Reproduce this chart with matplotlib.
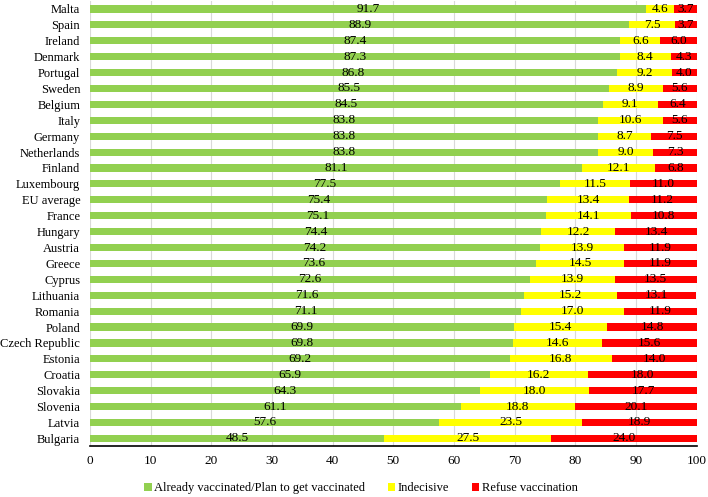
import matplotlib
matplotlib.use("Agg")
import matplotlib.pyplot as plt
import numpy as np

countries = ["Malta", "Spain", "Ireland", "Denmark", "Portugal", "Sweden", "Belgium", "Italy",
             "Germany", "Netherlands", "Finland", "Luxembourg", "EU average", "France", "Hungary",
             "Austria", "Greece", "Cyprus", "Lithuania", "Romania", "Poland", "Czech Republic",
             "Estonia", "Croatia", "Slovakia", "Slovenia", "Latvia", "Bulgaria"]
vaccinated = [91.7, 88.9, 87.4, 87.3, 86.8, 85.5, 84.5, 83.8, 83.8, 83.8, 81.1, 77.5, 75.4, 75.1,
              74.4, 74.2, 73.6, 72.6, 71.6, 71.1, 69.9, 69.8, 69.2, 65.9, 64.3, 61.1, 57.6, 48.5]
indecisive = [4.6, 7.5, 6.6, 8.4, 9.2, 8.9, 9.1, 10.6, 8.7, 9.0, 12.1, 11.5, 13.4, 14.1,
              12.2, 13.9, 14.5, 13.9, 15.2, 17.0, 15.4, 14.6, 16.8, 16.2, 18.0, 18.8, 23.5, 27.5]
refuse = [3.7, 3.7, 6.0, 4.3, 4.0, 5.6, 6.4, 5.6, 7.5, 7.3, 6.8, 11.0, 11.2, 10.8,
          13.4, 11.9, 11.9, 13.5, 13.1, 11.9, 14.8, 15.6, 14.0, 18.0, 17.7, 20.1, 18.9, 24.0]

plt.rcParams['font.family'] = ['Liberation Serif', 'DejaVu Serif']

fig = plt.figure(figsize=(7.08, 4.97), dpi=100)
ax = fig.add_axes([0.127, 0.102, 0.857, 0.896])

y = np.arange(len(countries))
v = np.array(vaccinated); i = np.array(indecisive); r = np.array(refuse)
h = 0.45
b1 = ax.barh(y, v, height=h, color="#92D050", label="Already vaccinated/Plan to get vaccinated", zorder=2)
b2 = ax.barh(y, i, left=v, height=h, color="#FFFF00", label="Indecisive", zorder=2)
b3 = ax.barh(y, r, left=v + i, height=h, color="#FF0000", label="Refuse vaccination", zorder=2)

for bars, vals, lefts in [(b1, v, np.zeros_like(v)), (b2, i, v), (b3, r, v + i)]:
    for yy, val, lf in zip(y, vals, lefts):
        ax.text(lf + val / 2, yy, f"{val:.1f}", ha="center", va="center", fontsize=9.5, zorder=3)

ax.set_xlim(0, 100)
ax.set_ylim(len(countries) - 0.5, -0.5)
ax.set_yticks(y)
ax.set_yticklabels(countries, fontsize=9)
ax.set_xticks(np.arange(0, 101, 10))
ax.tick_params(axis="x", labelsize=9.5, length=0, pad=6)
ax.tick_params(axis="y", length=0, pad=7)
ax.grid(axis="x", color="#D9D9D9", linewidth=0.8, zorder=0)
for s in ["top", "right", "left"]:
    ax.spines[s].set_visible(False)
ax.spines["bottom"].set_color("black")
ax.spines["bottom"].set_linewidth(1.2)

fig.legend(handles=[b1, b2, b3], loc="center", bbox_to_anchor=(0.51, 0.018), ncol=3, frameon=False,
           fontsize=9, handlelength=0.6, handleheight=0.6, handletextpad=0.2, columnspacing=1.8)

fig.savefig("out.png", dpi=100)
